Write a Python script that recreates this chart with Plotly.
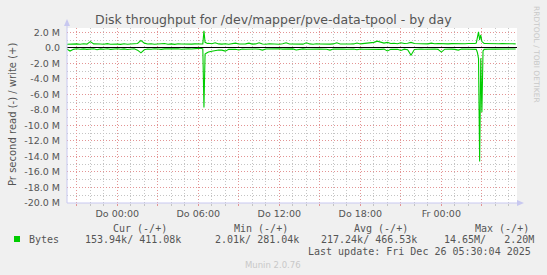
import pandas as pd
import plotly.graph_objects as go

# ---------------- data (values in MB/s) ----------------
base_start = "2025-12-24 20:15"
base_step = "15min"
write_base = [
    0.45, 0.48, 0.44, 0.50, 0.46, 0.52, 0.47, 0.80, 0.50, 0.45,
    0.49, 0.46, 0.53, 0.45, 0.50, 0.47, 0.44, 0.52, 0.46, 0.50,
    0.48, 0.55, 0.95, 0.60, 0.48, 0.52, 0.45, 0.50, 0.47, 0.55,
    0.46, 0.50, 0.44, 0.52, 0.48, 0.46, 0.53, 0.47, 0.50, 0.45,
    0.48, 0.60, 0.58, 0.52, 0.65, 0.50, 0.47, 0.52, 0.46, 0.50,
    0.60, 0.48, 0.45, 0.51, 0.60, 0.47, 0.50, 0.65, 0.48, 0.45,
    0.52, 0.47, 0.50, 0.46, 0.53, 0.65, 0.48, 0.50, 0.45, 0.52,
    0.47, 0.65, 0.50, 0.46, 0.52, 0.48, 0.45, 0.51, 0.47, 0.50,
    0.65, 0.49, 0.46, 0.52, 0.48, 0.50, 0.62, 0.50, 0.55, 0.52,
    0.58, 0.70, 0.86, 0.75, 0.60, 0.70, 0.55, 0.58, 0.52, 0.65,
    0.55, 0.58, 0.70, 0.55, 0.52, 0.57, 0.54, 0.50, 0.60, 0.53,
    0.56, 0.52, 0.55, 0.50, 0.54, 0.52, 0.56, 0.50, 0.53, 0.55,
    0.52, 0.55, 1.50, 0.80, 0.55, 0.52, 0.50, 0.54, 0.52, 0.55,
    0.50, 0.53, 0.52, 0.50,
]
read_base = [
    0.15, 0.42, 0.20, 0.12, 0.18, 0.14, 0.20, 0.16, 0.12, 0.25,
    0.14, 0.18, 0.13, 0.20, 0.15, 0.12, 0.18, 0.14, 0.22, 0.15,
    0.13, 0.30, 0.65, 0.25, 0.15, 0.18, 0.12, 0.16, 0.20, 0.14,
    0.12, 0.18, 0.15, 0.13, 0.19, 0.14, 0.12, 0.16, 0.10, 0.08,
    0.10, 0.70, 0.55, 0.45, 0.35, 0.28, 0.30, 0.43, 0.20, 0.16,
    0.18, 0.28, 0.15, 0.18, 0.14, 0.17, 0.15, 0.19, 0.30, 0.16,
    0.14, 0.18, 0.15, 0.13, 0.17, 0.15, 0.19, 0.14, 0.28, 0.16,
    0.14, 0.18, 0.15, 0.13, 0.17, 0.16, 0.14, 0.18, 0.30, 0.15,
    0.17, 0.14, 0.16, 0.18, 0.14, 0.16, 0.25, 0.15, 0.18, 0.20,
    0.16, 0.22, 0.18, 0.20, 0.17, 0.40, 0.18, 0.16, 0.20, 0.35,
    0.18, 0.25, 0.95, 0.22, 0.17, 0.15, 0.19, 0.16, 0.18, 0.15,
    0.20, 0.55, 0.18, 0.15, 0.17, 0.20, 0.30, 0.16, 0.15, 0.18,
    0.16, 0.20, 5.00, 4.00, 0.18, 0.16, 0.15, 0.17, 0.16, 0.15,
    0.17, 0.16, 0.15, 0.16,
]

spike1_times = ["2025-12-25 06:20", "2025-12-25 06:25", "2025-12-25 06:30",
                "2025-12-25 06:35", "2025-12-25 06:40"]
spike1_write = [0.50, 2.20, 0.70, 0.58, 0.55]
spike1_read = [0.15, 7.70, 0.80, 0.70, 0.62]

spike2_times = ["2025-12-26 02:35", "2025-12-26 02:40", "2025-12-26 02:45",
                "2025-12-26 02:50", "2025-12-26 02:55", "2025-12-26 03:00",
                "2025-12-26 03:05", "2025-12-26 03:10"]
spike2_write = [0.60, 1.20, 2.05, 1.00, 1.65, 0.80, 0.60, 0.55]
spike2_read = [0.20, 0.60, 1.40, 14.65, 1.35, 8.30, 0.40, 0.20]

y_tickvals = [2, 0, -2, -4, -6, -8, -10, -12, -14, -16, -18, -20]
y_ticktext = ["2.0 M", "0.0", "-2.0 M", "-4.0 M", "-6.0 M", "-8.0 M", "-10.0 M",
              "-12.0 M", "-14.0 M", "-16.0 M", "-18.0 M", "-20.0 M"]
x_tickvals = ["2025-12-24 21:00", "2025-12-25 00:00", "2025-12-25 03:00",
              "2025-12-25 06:00", "2025-12-25 09:00", "2025-12-25 12:00",
              "2025-12-25 15:00", "2025-12-25 18:00", "2025-12-25 21:00",
              "2025-12-26 00:00", "2025-12-26 03:00"]
x_ticktext = ["", "Do 00:00", "", "Do 06:00", "", "Do 12:00", "", "Do 18:00",
              "", "Fr 00:00", ""]

title = "Disk throughput for /dev/mapper/pve-data-tpool - by day"
y_title = "Pr second read (-) / write (+)"
legend_name = "Bytes"
stat_headers = ["Cur (-/+)", "Min (-/+)", "Avg (-/+)", "Max (-/+)"]
stat_values = ["153.94k/ 411.08k", "2.01k/ 281.04k", "217.24k/ 466.53k", "14.65M/   2.20M"]
last_update = "Last update: Fri Dec 26 05:30:04 2025"
watermark = "RRDTOOL / TOBI OETIKER"
footer = "Munin 2.0.76"

# ---------------- merge base + detail ----------------
base = pd.DataFrame({"t": pd.date_range(base_start, periods=len(write_base), freq=base_step),
                     "w": write_base, "r": read_base})
for tt in (spike1_times, spike2_times):
    lo = pd.Timestamp(tt[0]) - pd.Timedelta("5min")
    hi = pd.Timestamp(tt[-1]) + pd.Timedelta("5min")
    base = base[~((base["t"] > lo) & (base["t"] < hi))]
det = pd.concat([
    pd.DataFrame({"t": pd.to_datetime(spike1_times), "w": spike1_write, "r": spike1_read}),
    pd.DataFrame({"t": pd.to_datetime(spike2_times), "w": spike2_write, "r": spike2_read}),
])
df = pd.concat([base, det]).sort_values("t").reset_index(drop=True)

GREEN = "#00CC00"
fig = go.Figure()
fig.add_trace(go.Scatter(x=df["t"], y=-df["r"], mode="lines",
                         line=dict(color=GREEN, width=1.1), hoverinfo="skip"))
fig.add_trace(go.Scatter(x=df["t"], y=df["w"], mode="lines",
                         line=dict(color=GREEN, width=1.1), hoverinfo="skip"))

# ---------------- layout ----------------
W, H = 547, 275
L, R, T, B = 67, 517, 28, 203


def px(x):
    return (x - L) / (R - L)


def py(y):
    return (B - y) / (B - T)


MAJ = "#E39494"
MIN = "#C4C4C4"
AX = "#C8C8F0"
TXT = "#555555"

fig.update_layout(
    width=W, height=H,
    margin=dict(l=L, r=W - R, t=T, b=H - B, pad=0),
    paper_bgcolor="#F0F0F0", plot_bgcolor="white",
    showlegend=False,
    font=dict(family="DejaVu Sans", size=10, color=TXT),
)
fig.update_xaxes(
    type="date",
    range=["2025-12-24 20:16:30", "2025-12-26 05:36:00"],
    tickmode="array", tickvals=x_tickvals, ticktext=x_ticktext,
    showgrid=True, gridcolor=MAJ, griddash="1px,2px", gridwidth=1,
    ticks="outside", ticklen=2, tickcolor=MAJ,
    tickfont=dict(size=9.5, color=TXT),
    minor=dict(tick0="2025-12-24 00:00", dtick=3600000, showgrid=True,
               gridcolor=MIN, griddash="1px,2px", ticks="outside", ticklen=2,
               tickcolor=MIN),
    showline=False, zeroline=False, fixedrange=True,
)
fig.update_yaxes(
    range=[-20.0, 2.55],
    tickmode="array", tickvals=y_tickvals, ticktext=y_ticktext,
    showgrid=True, gridcolor=MAJ, griddash="1px,2px", gridwidth=1,
    minor=dict(dtick=1, tick0=0, showgrid=True, gridcolor=MIN, griddash="1px,2px"),
    zeroline=True, zerolinecolor="black", zerolinewidth=1,
    tickfont=dict(size=9.5, color=TXT), ticks="", ticklabelstandoff=6,
    showline=False, fixedrange=True,
)

shapes = [
    # axis lines
    dict(type="line", xref="paper", yref="paper", x0=0, x1=px(521), y0=0, y1=0,
         line=dict(color=AX, width=1)),
    dict(type="line", xref="paper", yref="paper", x0=0, x1=0, y0=0, y1=py(22),
         line=dict(color=AX, width=1)),
    # arrows
    dict(type="path", xref="paper", yref="paper",
         path=f"M {px(64)} {py(26)} L {px(70)} {py(26)} L {px(67)} {py(19)} Z",
         fillcolor=AX, line=dict(color=AX, width=0)),
    dict(type="path", xref="paper", yref="paper",
         path=f"M {px(517)} {py(200)} L {px(517)} {py(206)} L {px(524)} {py(203)} Z",
         fillcolor=AX, line=dict(color=AX, width=0)),
    # legend swatch
    dict(type="rect", xref="paper", yref="paper", x0=px(14), x1=px(20),
         y0=py(242), y1=py(236), fillcolor=GREEN, line=dict(width=0)),
]
fig.update_layout(shapes=shapes)

MONO = "DejaVu Sans Mono"
ann = [
    dict(text=title, x=px(273), y=py(19), font=dict(size=12.5, color=TXT),
         xanchor="center", yanchor="middle"),
    dict(text=y_title, x=px(12), y=py(115), textangle=-90,
         font=dict(size=10, color=TXT), xanchor="center", yanchor="middle"),
    dict(text=watermark, x=px(537), y=py(54), textangle=90,
         font=dict(size=7.5, color="#C8C8C8"), xanchor="center", yanchor="middle"),
    dict(text=legend_name, x=px(26.5), y=py(239.5), font=dict(family=MONO, size=10, color=TXT),
         xanchor="left", yanchor="middle"),
    dict(text=footer, x=px(272.5), y=py(264.5), font=dict(size=8.5, color="#C8C8C8"),
         xanchor="center", yanchor="middle"),
    dict(text=last_update, x=px(533), y=py(251), font=dict(family=MONO, size=10, color=TXT),
         xanchor="right", yanchor="middle"),
]
header_x = [111, 231.5, 352, 473]
value_x = [83.3, 213.3, 319, 442.3]
for hx, h in zip(header_x, stat_headers):
    ann.append(dict(text=h, x=px(hx), y=py(228), font=dict(family=MONO, size=10, color=TXT),
                    xanchor="left", yanchor="middle"))
for vx, v in zip(value_x, stat_values):
    ann.append(dict(text=v.replace(" ", "&nbsp;"), x=px(vx), y=py(239.5),
                    font=dict(family=MONO, size=10, color=TXT),
                    xanchor="left", yanchor="middle"))
for a in ann:
    a.update(xref="paper", yref="paper", showarrow=False)
fig.update_layout(annotations=ann)

fig.write_html("out.html", config={"displayModeBar": False})
